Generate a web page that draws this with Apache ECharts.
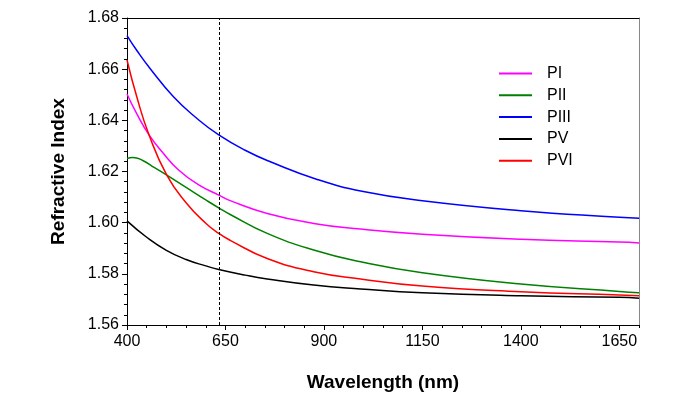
<!DOCTYPE html>
<html>
<head>
<meta charset="utf-8">
<script src="https://cdn.jsdelivr.net/npm/echarts@6/dist/echarts.min.js"></script>
<style>
html,body{margin:0;padding:0;background:#fff;}
#chart{width:700px;height:397px;}
</style>
</head>
<body>
<div id="chart"></div>
<script>
// wavelength ticks (nm)
var xTicks=[400,650,900,1150,1400,1650];
var xMinor=[400,450,500,550,600,650,700,750,800,850,900,950,1000,1050,1100,1150,1200,1250,1300,1350,1400,1450,1500,1550,1600,1650,1700];
var markWl=633;

// [wavelength, refractive index]
var pI=[[400,1.6503],[425,1.6425],[456,1.6343],[490,1.6275],[531,1.6206],[580,1.6150],[637,1.6105],[662,1.6086],[756,1.6036],[874,1.5997],[993,1.5975],[1150,1.5955],[1400,1.5935],[1650,1.5924],[1700,1.5921]];
var pII=[[400,1.6251],[415,1.6255],[440,1.6243],[470,1.6215],[501,1.6186],[550,1.6138],[600,1.6089],[637,1.6054],[662,1.6032],[756,1.5958],[874,1.5893],[993,1.5847],[1150,1.5804],[1400,1.5760],[1650,1.5731],[1700,1.5726]];
var pIII=[[400,1.6731],[425,1.6673],[460,1.6600],[518,1.6492],[577,1.6408],[633,1.6343],[700,1.6283],[764,1.6238],[883,1.6169],[1000,1.6122],[1150,1.6086],[1400,1.6047],[1650,1.6021],[1700,1.6017]];
var pV=[[400,1.6007],[450,1.5943],[500,1.5892],[550,1.5856],[600,1.5831],[633,1.5817],[700,1.5795],[756,1.5780],[874,1.5756],[993,1.5741],[1150,1.5726],[1400,1.5714],[1650,1.5708],[1700,1.5705]];
var pVI=[[400,1.6636],[425,1.6491],[456,1.6343],[501,1.6186],[550,1.6078],[600,1.5998],[633,1.5958],[662,1.5931],[756,1.5860],[874,1.5808],[993,1.5780],[1150,1.5752],[1400,1.5730],[1650,1.5717],[1700,1.5714]];

var names=['PI','PII','PIII','PV','PVI'];
var colors=['#ff00ff','#008000','#0000ff','#000000','#ff0000'];
var datas=[pI,pII,pIII,pV,pVI];

var chart=echarts.init(document.getElementById('chart'));
var font='Liberation Sans';
var series=[];
for(var i=0;i<names.length;i++){
    series.push({
        name:names[i],
        type:'line',
        smooth:0.5,
        symbol:'none',
        lineStyle:{width:1.5,color:colors[i]},
        itemStyle:{color:colors[i]},
        data:datas[i],
        z:3
    });
}
// 633 nm marker line
series[0].markLine={
    silent:true,
    symbol:'none',
    label:{show:false},
    lineStyle:{color:'#000',type:[3,2],width:1},
    data:[{xAxis:markWl}]
};

var option={
    animation:false,
    color:colors,
    grid:{left:127,right:61,top:18,bottom:72},
    legend:{
        data:names,
        orient:'vertical',
        left:499,
        top:65.5,
        padding:0,
        icon:'rect',
        itemWidth:33,
        itemHeight:2,
        itemGap:5.8,
        textStyle:{fontFamily:font,fontSize:16,lineHeight:16,color:'#000',padding:[0,0,0,10]}
    },
    xAxis:[
        {
            type:'value',
            min:400,max:1700,
            name:'Wavelength (nm)',
            nameLocation:'middle',
            nameGap:48,
            nameTextStyle:{fontFamily:font,fontSize:19,fontWeight:'bold',color:'#000'},
            axisLine:{show:true,onZero:false,lineStyle:{color:'#000',width:1}},
            axisTick:{show:true,length:5,customValues:xTicks,lineStyle:{color:'#000'}},
            axisLabel:{customValues:xTicks,fontFamily:font,fontSize:16,color:'#000',margin:9,
                formatter:function(v){return String(v);}},
            splitLine:{show:false}
        },
        {
            type:'value',
            min:400,max:1700,
            position:'bottom',
            axisLine:{show:false},
            axisTick:{show:true,length:3,customValues:xMinor,lineStyle:{color:'#000'}},
            axisLabel:{show:false},
            splitLine:{show:false}
        },
        {
            type:'value',
            min:400,max:1700,
            position:'top',
            axisLine:{show:true,onZero:false,lineStyle:{color:'#000',width:1}},
            axisTick:{show:false},
            axisLabel:{show:false},
            splitLine:{show:false}
        }
    ],
    yAxis:[
        {
            type:'value',
            min:1.56,max:1.68,interval:0.02,
            name:'Refractive Index',
            nameLocation:'middle',
            nameGap:59,
            nameTextStyle:{fontFamily:font,fontSize:19,fontWeight:'bold',color:'#000'},
            axisLine:{show:true,onZero:false,lineStyle:{color:'#000',width:1}},
            axisTick:{show:true,length:5,lineStyle:{color:'#000'}},
            minorTick:{show:true,splitNumber:5,length:3,lineStyle:{color:'#000'}},
            axisLabel:{fontFamily:font,fontSize:16,color:'#000',margin:8,
                formatter:function(v){return v.toFixed(2);}},
            splitLine:{show:false}
        },
        {
            type:'value',
            min:1.56,max:1.68,
            position:'right',
            axisLine:{show:true,onZero:false,lineStyle:{color:'#888',width:1}},
            axisTick:{show:false},
            axisLabel:{show:false},
            splitLine:{show:false}
        }
    ],
    series:series
};
chart.setOption(option);
</script>
</body>
</html>
